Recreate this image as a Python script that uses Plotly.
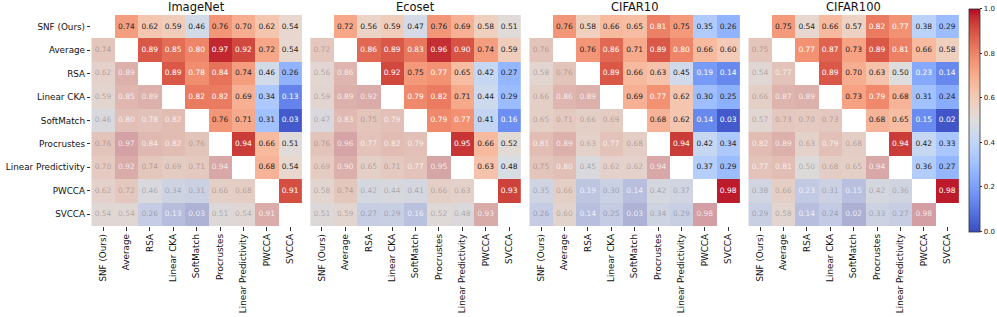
import plotly.graph_objects as go

methods = ["SNF (Ours)", "Average", "RSA", "Linear CKA", "SoftMatch",
           "Procrustes", "Linear Predictivity", "PWCCA", "SVCCA"]
datasets = ["ImageNet", "Ecoset", "CIFAR10", "CIFAR100"]

imagenet_upper = [
    [0.74, 0.62, 0.59, 0.46, 0.76, 0.70, 0.62, 0.54],
    [0.89, 0.85, 0.80, 0.97, 0.92, 0.72, 0.54],
    [0.89, 0.78, 0.84, 0.74, 0.46, 0.26],
    [0.82, 0.82, 0.69, 0.34, 0.13],
    [0.76, 0.71, 0.31, 0.03],
    [0.94, 0.66, 0.51],
    [0.68, 0.54],
    [0.91],
]
ecoset_upper = [
    [0.72, 0.56, 0.59, 0.47, 0.76, 0.69, 0.58, 0.51],
    [0.86, 0.89, 0.83, 0.96, 0.90, 0.74, 0.59],
    [0.92, 0.75, 0.77, 0.65, 0.42, 0.27],
    [0.79, 0.82, 0.71, 0.44, 0.29],
    [0.79, 0.77, 0.41, 0.16],
    [0.95, 0.66, 0.52],
    [0.63, 0.48],
    [0.93],
]
cifar10_upper = [
    [0.76, 0.58, 0.66, 0.65, 0.81, 0.75, 0.35, 0.26],
    [0.76, 0.86, 0.71, 0.89, 0.80, 0.66, 0.60],
    [0.89, 0.66, 0.63, 0.45, 0.19, 0.14],
    [0.69, 0.77, 0.62, 0.30, 0.25],
    [0.68, 0.62, 0.14, 0.03],
    [0.94, 0.42, 0.34],
    [0.37, 0.29],
    [0.98],
]
cifar100_upper = [
    [0.75, 0.54, 0.66, 0.57, 0.82, 0.77, 0.38, 0.29],
    [0.77, 0.87, 0.73, 0.89, 0.81, 0.66, 0.58],
    [0.89, 0.70, 0.63, 0.50, 0.23, 0.14],
    [0.73, 0.79, 0.68, 0.31, 0.24],
    [0.68, 0.65, 0.15, 0.02],
    [0.94, 0.42, 0.33],
    [0.36, 0.27],
    [0.98],
]
uppers = [imagenet_upper, ecoset_upper, cifar10_upper, cifar100_upper]
cbar_ticks = [0.0, 0.2, 0.4, 0.6, 0.8, 1.0]

# Moreland cool-warm (matplotlib "coolwarm")
cw = [(59, 76, 192), (68, 90, 204), (77, 104, 215), (87, 117, 225), (98, 130, 234),
      (108, 142, 241), (119, 154, 247), (130, 165, 251), (141, 176, 254), (152, 185, 255),
      (163, 194, 255), (174, 201, 253), (184, 208, 249), (194, 213, 244), (204, 217, 238),
      (213, 219, 230), (221, 221, 221), (229, 216, 209), (236, 211, 197), (241, 204, 185),
      (245, 196, 173), (247, 187, 160), (247, 177, 148), (247, 166, 135), (244, 154, 123),
      (241, 141, 111), (236, 127, 99), (229, 112, 88), (222, 96, 77), (213, 80, 66),
      (203, 62, 56), (192, 40, 47), (180, 4, 38)]
n = len(cw) - 1
coolwarm = [[i / n, "rgb(%d,%d,%d)" % c] for i, c in enumerate(cw)]
A = 0.3
G = (220, 215, 215)
faded = [[i / n, "rgb(%d,%d,%d)" % tuple(round(A * c[k] + (1 - A) * G[k]) for k in range(3))]
         for i, c in enumerate(cw)]

W, H = 997, 317
x_left = [91.3, 310.2, 529.3, 748.3]
cell_w = 23.4
top_px, bot_px = 15.0, 226.0


def px(xw):
    return xw / W


def py(yw):
    return 1 - yw / H


FONT = "DejaVu Sans"
fig = go.Figure()
N = len(methods)
idx = list(range(N))

for k, up in enumerate(uppers):
    M = [[None] * N for _ in range(N)]
    for i in range(N):
        for j in range(i + 1, N):
            v = up[i][j - i - 1]
            M[i][j] = v
            M[j][i] = v
    zu = [[M[i][j] if j > i else None for j in range(N)] for i in range(N)]
    zl = [[M[i][j] if j < i else None for j in range(N)] for i in range(N)]
    sfx = "" if k == 0 else str(k + 1)
    xa, ya = "x" + sfx, "y" + sfx
    cb = None
    if k == 3:
        cb = dict(x=px(968.5), xanchor="left", y=py(8.5), yanchor="top",
                  len=(231.5 - 8.5) / H, lenmode="fraction", thickness=11, thicknessmode="pixels",
                  outlinewidth=0.8, outlinecolor="#333",
                  tickvals=cbar_ticks, ticktext=["%.1f" % t for t in cbar_ticks],
                  tickfont=dict(size=7, family=FONT, color="#222"),
                  ticks="outside", ticklen=2.5, tickwidth=0.7, tickcolor="#333",
                  xpad=0, ypad=0)
    fig.add_trace(go.Heatmap(z=zl, x=idx, y=idx, colorscale=faded, zmin=0, zmax=1,
                             showscale=False, hoverinfo="skip", xaxis=xa, yaxis=ya))
    fig.add_trace(go.Heatmap(z=zu, x=idx, y=idx, colorscale=coolwarm, zmin=0, zmax=1,
                             showscale=(k == 3), colorbar=cb, hoverinfo="skip",
                             xaxis=xa, yaxis=ya))
    tx, ty, tt, tc = [], [], [], []
    for i in range(N):
        for j in range(N):
            if i == j:
                continue
            v = M[i][j]
            white = v > 0.765 or v < 0.235
            tx.append(j)
            ty.append(i)
            tt.append("%.2f" % v)
            if j > i:
                tc.append("#ffffff" if white else "#262626")
            else:
                tc.append("rgba(255,255,255,0.75)" if white else "rgba(0,0,0,0.25)")
    fig.add_trace(go.Scatter(x=tx, y=ty, text=tt, mode="text",
                             textfont=dict(color=tc, size=7.5, family=FONT),
                             hoverinfo="skip", showlegend=False, xaxis=xa, yaxis=ya))

    x0 = px(x_left[k])
    x1 = px(x_left[k] + cell_w * N)
    fig.update_layout(**{
        "xaxis" + sfx: dict(domain=[x0, x1], range=[-0.5, N - 0.5], anchor=ya,
                            tickvals=idx, ticktext=methods, tickangle=-90,
                            ticks="outside", ticklen=3.5, tickwidth=0.8, tickcolor="#333",
                            tickfont=dict(size=8.8, family=FONT, color="#111"),
                            showgrid=False, zeroline=False, showline=False,
                            fixedrange=True, automargin=False),
        "yaxis" + sfx: dict(domain=[py(bot_px), py(top_px)], range=[N - 0.5, -0.5],
                            anchor=xa, tickvals=idx, ticktext=methods,
                            showticklabels=(k == 0), ticks="outside" if k == 0 else "",
                            ticklen=3.5, tickwidth=0.8, tickcolor="#333",
                            tickfont=dict(size=8.8, family=FONT, color="#111"),
                            showgrid=False, zeroline=False, showline=False,
                            fixedrange=True, automargin=False),
    })
    fig.add_annotation(text=datasets[k], xref="paper", yref="paper",
                       x=(x0 + x1) / 2, y=py(7.5), xanchor="center", yanchor="middle",
                       showarrow=False, font=dict(size=11.5, family=FONT, color="#111"))

fig.update_layout(width=W, height=H, margin=dict(l=0, r=0, t=0, b=0),
                  paper_bgcolor="white", plot_bgcolor="white", showlegend=False)
# remove the browser's default 8px body margin so the figure fills the window
fig.write_html("out.html", config={"displayModeBar": False},
               post_script="document.body.style.margin='0';document.body.style.overflow='hidden';")
